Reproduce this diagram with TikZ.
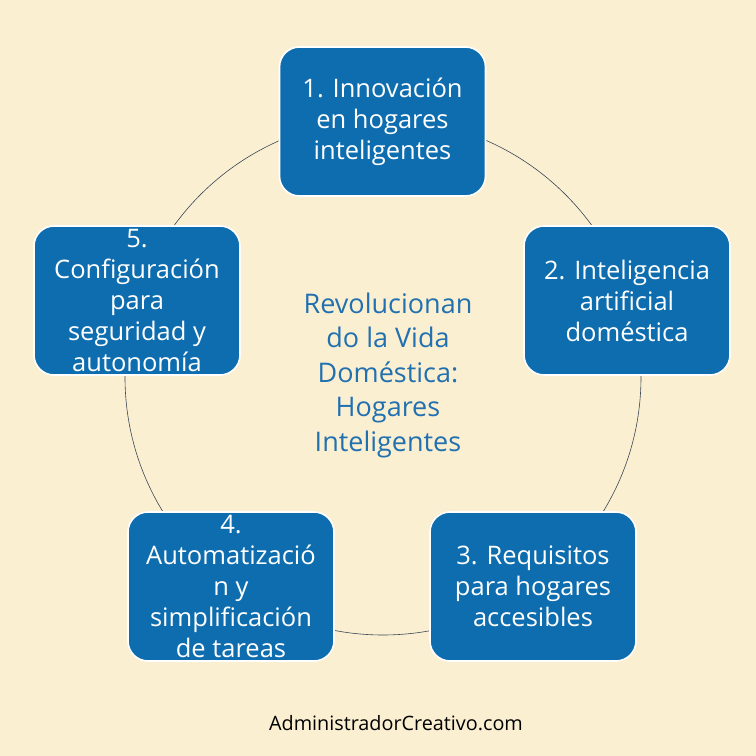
\documentclass[tikz,border=0pt]{standalone}
\usepackage{fontspec}
\setmainfont{Open Sans}[Ligatures=NoCommon]
\definecolor{bg}{HTML}{FBEFD2}
\definecolor{boxblue}{HTML}{0E6DAF}
\definecolor{titleblue}{HTML}{2170B0}
\definecolor{ringcol}{HTML}{3A4656}
\begin{document}
\begin{tikzpicture}[x=1pt,y=1pt,
  stepbox/.style={draw=white, line width=1.6pt, fill=boxblue, rounded corners=20pt,
    minimum width=206pt, minimum height=149pt, text=white, align=center,
    font=\fontsize{25.5}{31}\selectfont, inner sep=2pt}]
\fill[bg] (0,0) rectangle (756,756);
\useasboundingbox (0,0) rectangle (756,756);
\node[circle, draw=ringcol, line width=0.6pt, minimum size=516pt, inner sep=0pt] (ring) at (383,379) {};
\node[stepbox] (b1) at (382.5,634.5) {1. Innovación\\en hogares\\inteligentes};
\node[stepbox] (b2) at (627,455.5) {2. Inteligencia\\artificial\\doméstica};
\node[stepbox] (b3) at (533,169.5) {3. Requisitos\\para hogares\\accesibles};
\node[stepbox] (b4) at (231,169.5) {4.\\Automatizació\\n y\\simplificación\\de tareas};
\node[stepbox] (b5) at (137,455.5) {5.\\Configuración\\para\\seguridad y\\autonomía};
\node[text=titleblue, align=center, font=\fontsize{27}{34.5}\selectfont] (title) at (388,381)
  {Revolucionan\\do la Vida\\Doméstica:\\Hogares\\Inteligentes};
\node[text=black, font=\fontsize{19.8}{22}\selectfont] (credit) at (396,33) {AdministradorCreativo.com};
\end{tikzpicture}
\end{document}
